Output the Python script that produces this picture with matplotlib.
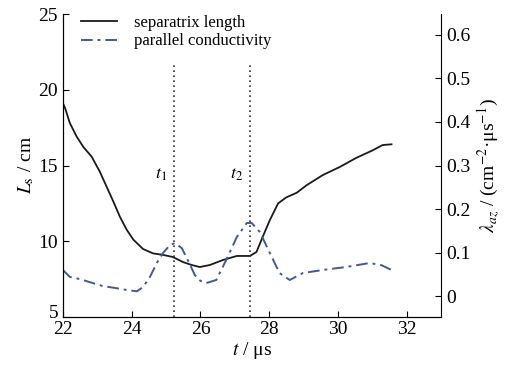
import matplotlib
matplotlib.use('Agg')
import matplotlib.pyplot as plt
import matplotlib.transforms as mtransforms

plt.rcParams['font.family'] = ['Liberation Serif', 'DejaVu Serif']
plt.rcParams['mathtext.fontset'] = 'stix'

# separatrix length (left axis, cm)
t_ls = [22.0, 22.06, 22.2, 22.4, 22.6, 22.83, 23.07, 23.27, 23.45, 23.66, 23.86, 24.05,
        24.33, 24.62, 24.91, 25.2, 25.49, 25.75, 25.98, 26.27, 26.65, 27.06, 27.44,
        27.63, 27.81, 28.02, 28.26, 28.5, 28.8, 29.09, 29.56, 30.05, 30.53, 31.01,
        31.3, 31.56]
ls = [19.1, 18.8, 17.8, 16.9, 16.2, 15.6, 14.6, 13.6, 12.7, 11.6, 10.74, 10.1,
      9.49, 9.2, 9.1, 8.96, 8.63, 8.43, 8.3, 8.43, 8.76, 9.03, 9.03,
      9.29, 10.28, 11.4, 12.5, 12.9, 13.2, 13.7, 14.37, 14.9, 15.5, 16.0,
      16.35, 16.4]

# parallel conductivity (right axis)
t_lam = [22.0, 22.06, 22.2, 22.5, 22.78, 23.16, 23.57, 23.86, 24.15, 24.33, 24.53,
         24.73, 24.91, 25.11, 25.26, 25.46, 25.63, 25.84, 26.0, 26.17, 26.46, 26.75,
         27.06, 27.35, 27.49, 27.73, 28.02, 28.3, 28.6, 28.98, 29.56, 30.25, 30.92,
         31.27, 31.56]
lam = [0.060, 0.055, 0.044, 0.039, 0.032, 0.023, 0.018, 0.014, 0.011, 0.021, 0.044,
       0.076, 0.099, 0.117, 0.122, 0.110, 0.083, 0.048, 0.035, 0.030, 0.037, 0.083,
       0.136, 0.168, 0.168, 0.147, 0.099, 0.053, 0.037, 0.053, 0.060, 0.067, 0.076,
       0.071, 0.060]

t_marks = [25.22, 27.43]
t_labels = ['$t_1$', '$t_2$']

fig = plt.figure(figsize=(5.1, 3.69), dpi=100)
ax = fig.add_axes([0.1235, 0.1409, 0.7412, 0.8211])
ax2 = ax.twinx()

l1, = ax.plot(t_ls, ls, color='#1a1a1a', lw=1.3, label='separatrix length')
l2, = ax2.plot(t_lam, lam, color='#44579a', lw=1.4, ls=(0, (6, 2.5, 1.5, 2.5)),
               label='parallel conductivity')

for tm, lab in zip(t_marks, t_labels):
    ax.axvline(tm, ymin=0, ymax=0.835, color='#333333', ls=(0, (1, 2)), lw=1.2)
    ax.text(tm - 0.2, 14.4, lab, fontsize=13, ha='right', va='center')

ax.set_xlim(22, 33)
ax.set_ylim(5, 25)
ax2.set_ylim(-0.048, 0.648)
ax.set_xticks([22, 24, 26, 28, 30, 32])
ax.set_yticks([5, 10, 15, 20, 25])
ax2.set_yticks([0, 0.1, 0.2, 0.3, 0.4, 0.5, 0.6])
ax2.set_yticklabels(['0', '0.1', '0.2', '0.3', '0.4', '0.5', '0.6'])

for a in (ax, ax2):
    a.spines['top'].set_visible(False)
    a.tick_params(direction='in', labelsize=14, length=4, width=0.8)
ax.spines['right'].set_visible(False)
ax.tick_params(axis='x', pad=3)

# lift the bottom "5" a little so it clears the "22"
lab5 = ax.get_yticklabels()[0]
lab5.set_transform(lab5.get_transform() +
                   mtransforms.ScaledTranslation(0, 4 / 72, fig.dpi_scale_trans))

ax.set_xlabel('$t$ / μs', fontsize=14, labelpad=1)
ax.set_ylabel('$L_\\mathrm{s}$ / cm', fontsize=14, labelpad=2)
ax2.set_ylabel('$\\lambda_{az}$ / (cm$^{-2}$·μs$^{-1}$)', fontsize=14, labelpad=4)

ax.legend(handles=[l1, l2], loc='upper left', bbox_to_anchor=(0.02, 1.03), frameon=False,
          fontsize=12, handlelength=2.2, handletextpad=1.0, labelspacing=0.15,
          borderaxespad=0.2)

fig.savefig('out.png', dpi=100)
